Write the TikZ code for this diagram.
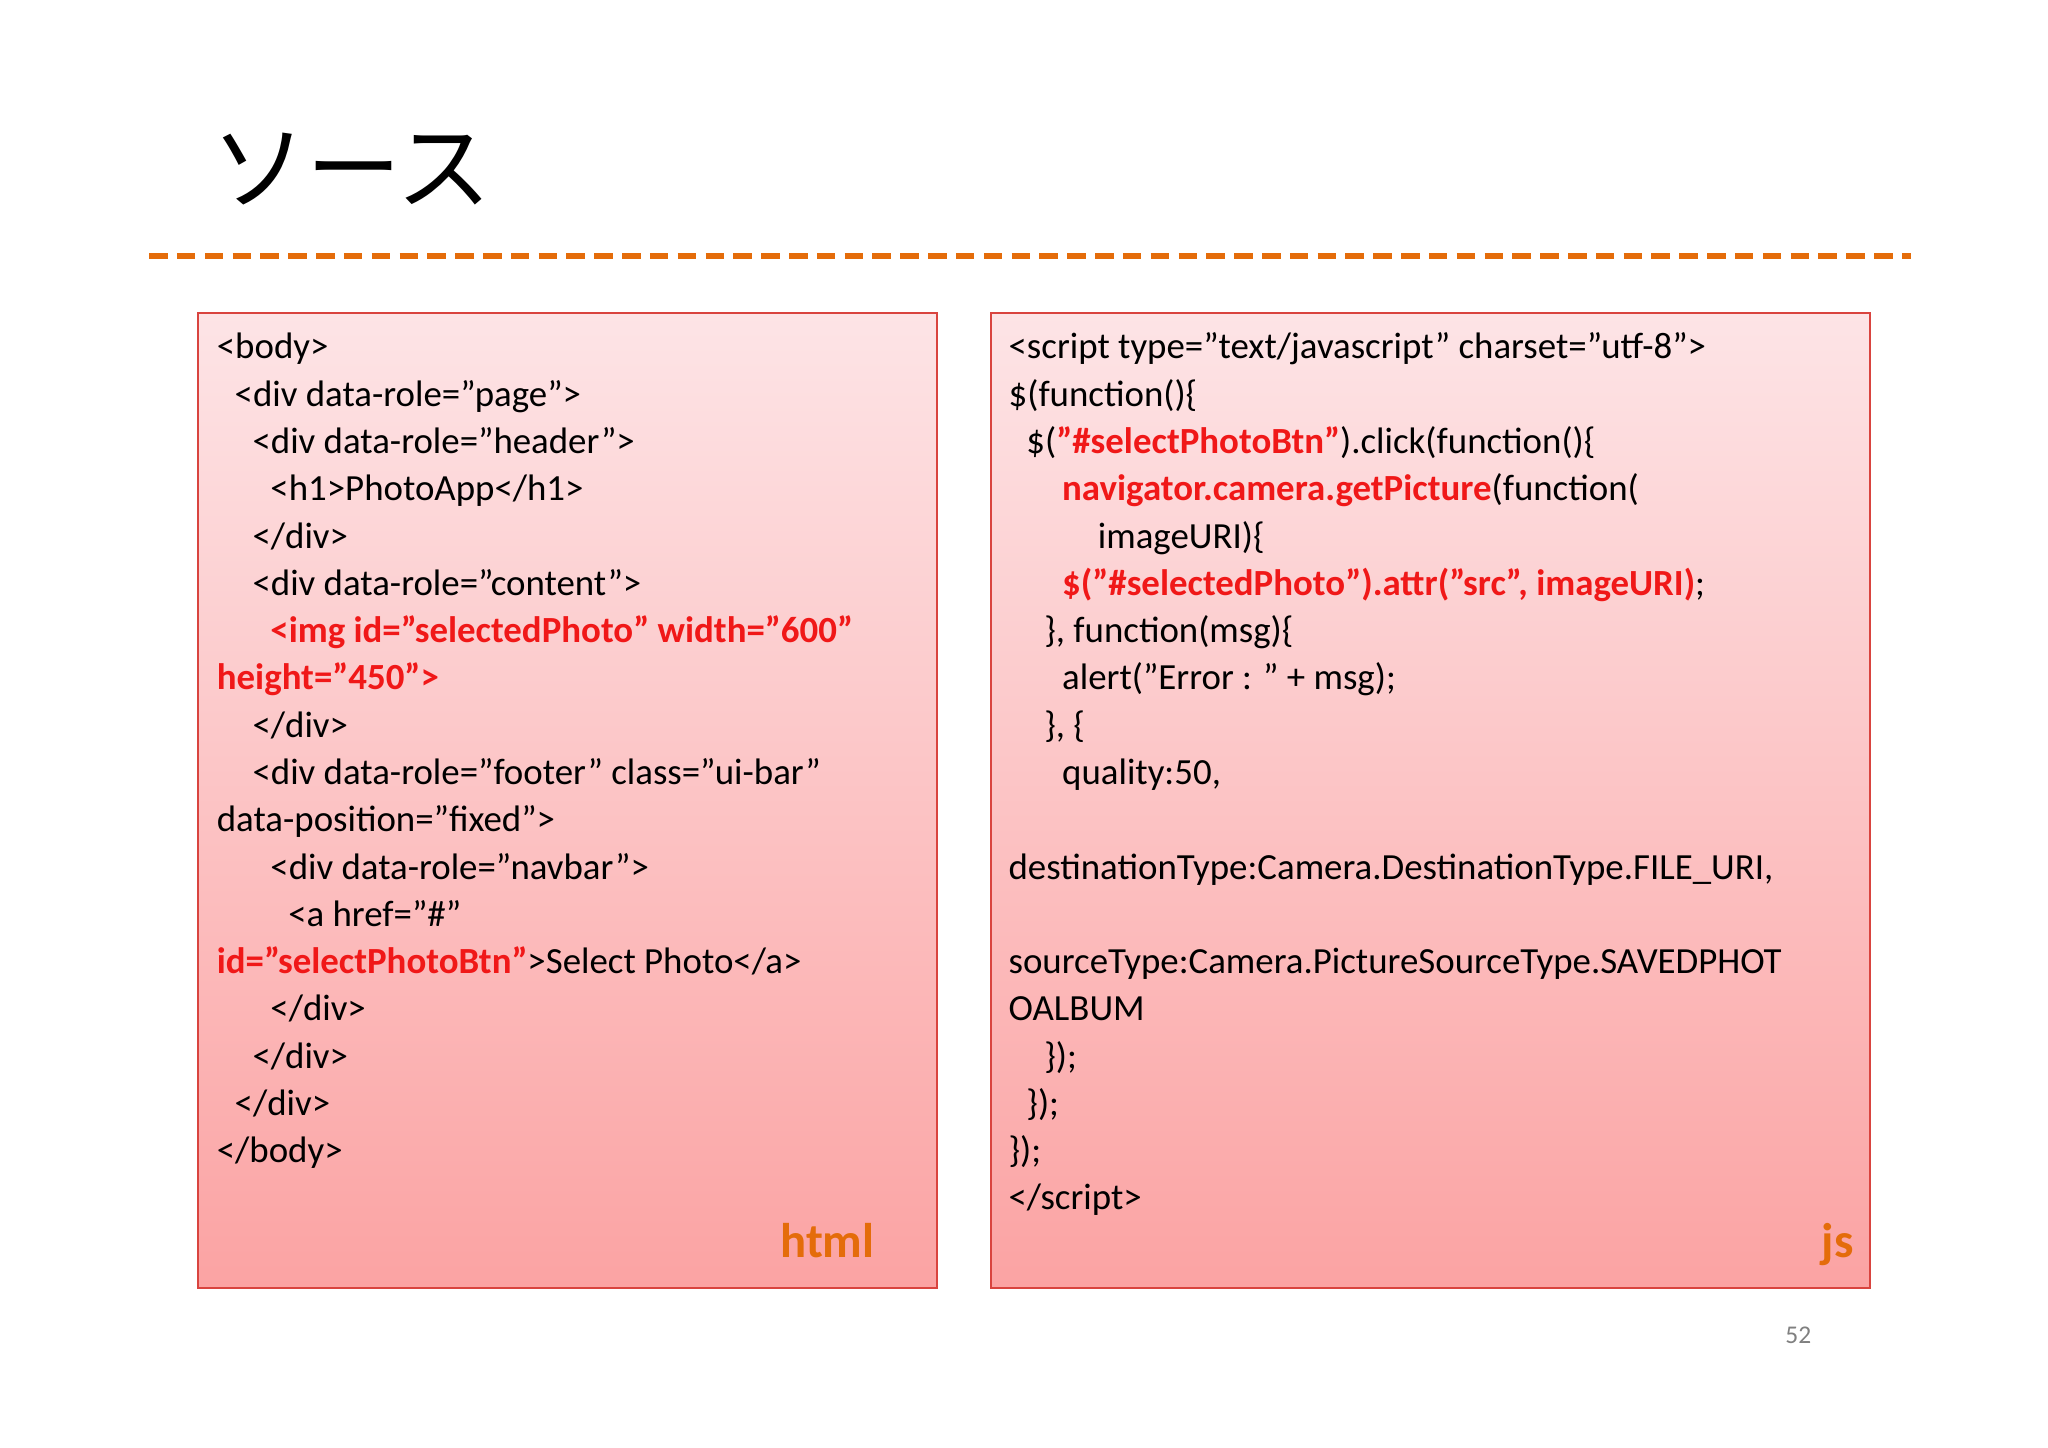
\documentclass[tikz,border=0pt]{standalone}
\usepackage{fontspec}
\setmainfont{Carlito}
\newfontfamily\cjk{Noto Sans CJK JP}
\definecolor{boxtop}{HTML}{FDE4E6}
\definecolor{boxbot}{HTML}{FBA3A3}
\definecolor{boxline}{HTML}{D9443F}
\definecolor{codered}{HTML}{F01818}
\definecolor{orng}{HTML}{E46C0A}
\newcommand{\rd}[1]{\textcolor{codered}{\textbf{#1}}}
\newcommand{\ind}[1]{\hspace*{\dimexpr #1\dimexpr 7.7pt\relax\relax}}
\newcommand{\cl}[3]{\node[codeline] at (#1,{272+35.83*#2}) {#3};}
\begin{document}
\begin{tikzpicture}[x=0.02cm,y=-0.02cm,
  codebox/.style={draw=boxline,line width=0.8pt,top color=boxtop,bottom color=boxbot},
  codeline/.style={anchor=base west,inner sep=0pt,font=\fontsize{15.9pt}{20pt}\selectfont},
  lang/.style={anchor=base east,inner sep=0pt,text=orng,font=\fontsize{21pt}{24pt}\selectfont\bfseries}]
\useasboundingbox (0,0) rectangle (1552,1097);
\node[font=\cjk\fontsize{41pt}{45pt}\selectfont,anchor=west,inner sep=0pt] (title) at (160,128) {ソース};
\draw[orng,line width=3pt,dash pattern=on 8pt off 4pt] (113,194) -- (1448,194);
\draw[codebox] (150,237) rectangle (710,976);
\draw[codebox] (751,237) rectangle (1417,976);
% left
\cl{164}{0}{<body>}
\cl{164}{1}{\ind{1}<div data-role="page">}
\cl{164}{2}{\ind{2}<div data-role="header">}
\cl{164}{3}{\ind{3}<h1>PhotoApp</h1>}
\cl{164}{4}{\ind{2}</div>}
\cl{164}{5}{\ind{2}<div data-role="content">}
\cl{164}{6}{\ind{3}\rd{<img id="selectedPhoto" width="600"}}
\cl{164}{7}{\rd{height="450">}}
\cl{164}{8}{\ind{2}</div>}
\cl{164}{9}{\ind{2}<div data-role="footer" class="ui-bar"}
\cl{164}{10}{data-position="fixed">}
\cl{164}{11}{\ind{3}<div data-role="navbar">}
\cl{164}{12}{\ind{4}<a href="\#"}
\cl{164}{13}{\rd{id="selectPhotoBtn"}>Select Photo</a>}
\cl{164}{14}{\ind{3}</div>}
\cl{164}{15}{\ind{2}</div>}
\cl{164}{16}{\ind{1}</div>}
\cl{164}{17}{</body>}
% right
\cl{764}{0}{<script type="text/javascript" charset="utf-8">}
\cl{764}{1}{\$(function()\{}
\cl{764}{2}{\ind{1}\$(\rd{"\#selectPhotoBtn"}).click(function()\{}
\cl{764}{3}{\ind{3}\rd{navigator.camera.getPicture}(function(}
\cl{764}{4}{\ind{5}imageURI)\{}
\cl{764}{5}{\ind{3}\rd{\$("\#selectedPhoto").attr("src", imageURI)};}
\cl{764}{6}{\ind{2}\}, function(msg)\{}
\cl{764}{7}{\ind{3}alert("Error : " + msg);}
\cl{764}{8}{\ind{2}\}, \{}
\cl{764}{9}{\ind{3}quality:50,}
\cl{764}{11}{destinationType:Camera.DestinationType.FILE\_URI,}
\cl{764}{13}{sourceType:Camera.PictureSourceType.SAVEDPHOT}
\cl{764}{14}{OALBUM}
\cl{764}{15}{\ind{2}\});}
\cl{764}{16}{\ind{1}\});}
\cl{764}{17}{\});}
\cl{764}{18}{</script>}
\node[lang] (html) at (663,953) {html};
\node[lang] (js) at (1405,953) {js};
\node[anchor=base east,inner sep=0pt,text=gray,font=\fontsize{11pt}{12pt}\selectfont] (pg) at (1373,1018) {52};
\end{tikzpicture}
\end{document}
